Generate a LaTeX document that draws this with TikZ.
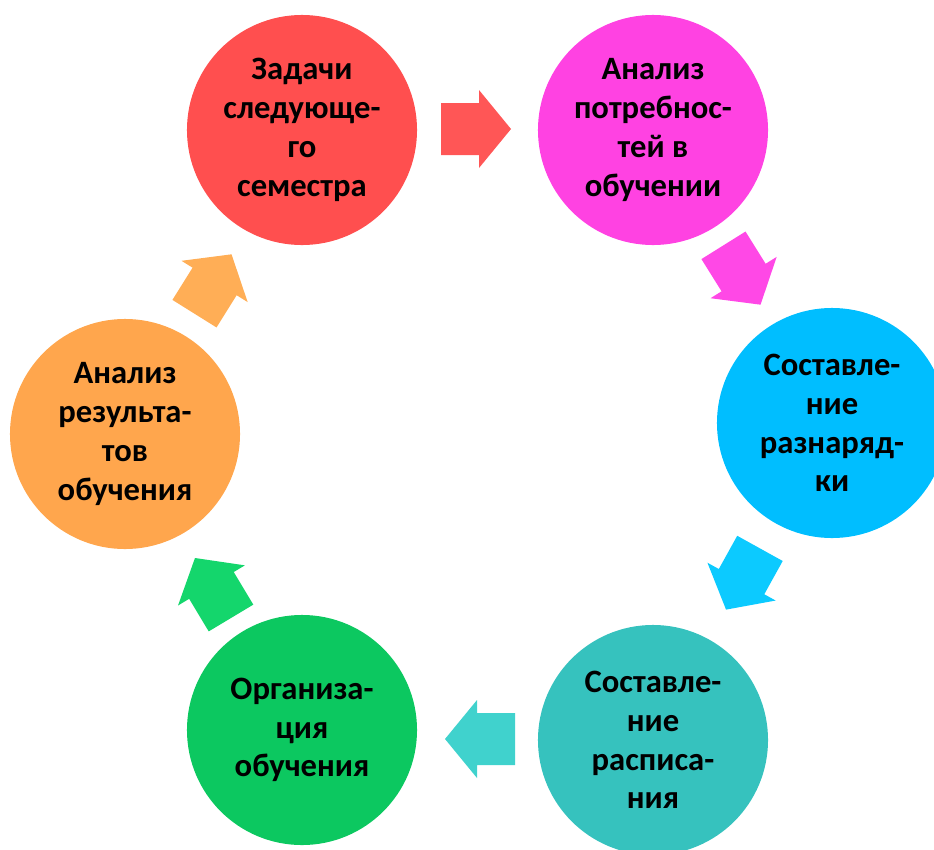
\documentclass[tikz,border=0pt]{standalone}
\usepackage{fontspec}
\setmainfont{Carlito}

\definecolor{cRed}{RGB}{255,79,79}
\definecolor{cRedA}{RGB}{255,86,86}
\definecolor{cPink}{RGB}{255,66,226}
\definecolor{cPinkA}{RGB}{255,72,230}
\definecolor{cCyan}{RGB}{0,190,255}
\definecolor{cCyanA}{RGB}{12,202,255}
\definecolor{cTeal}{RGB}{54,194,190}
\definecolor{cTealA}{RGB}{64,210,205}
\definecolor{cGreen}{RGB}{12,200,96}
\definecolor{cGreenA}{RGB}{20,214,108}
\definecolor{cOrange}{RGB}{255,166,77}
\definecolor{cOrangeA}{RGB}{255,174,86}

\begin{document}
\begin{tikzpicture}[
    x=0.025cm, y=-0.025cm,
    stage/.style={circle, draw=none, fill=#1, minimum size=5.75cm, inner sep=0pt,
                  align=center, font=\fontsize{23.2}{27.6}\selectfont\bfseries},
    blockarrow/.pic={
        \path[pic actions] (-35,-26) -- (3,-26) -- (3,-39) -- (35,0)
            -- (3,39) -- (3,26) -- (-35,26) -- cycle;
    },
]

\useasboundingbox (0,0) rectangle (934,849);

% Stages of the cycle
\node[stage=cRed]    (tasks)    at (302,130) {Задачи\\следующе-\\го\\семестра};
\node[stage=cPink]   (needs)    at (653,130) {Анализ\\потребнос-\\тей в\\обучении};
\node[stage=cCyan]   (quota)    at (832,423) {Составле-\\ние\\разнаряд-\\ки};
\node[stage=cTeal]   (schedule) at (653,740) {Составле-\\ние\\расписа-\\ния};
\node[stage=cGreen]  (organize) at (302,730) {Организа-\\ция\\обучения};
\node[stage=cOrange] (results)  at (125,434) {Анализ\\результа-\\тов\\обучения};

% Block arrows between the stages
\pic[fill=cRedA,    rotate=0]    (a1) at (476,129) {blockarrow};
\pic[fill=cPinkA,   rotate=-58]  (a2) at (742,275) {blockarrow};
\pic[fill=cCyanA,   rotate=-119] (a3) at (743,579) {blockarrow};
\pic[fill=cTealA,   rotate=180]  (a4) at (480,739) {blockarrow};
\pic[fill=cGreenA,  rotate=121]  (a5) at (213,588) {blockarrow};
\pic[fill=cOrangeA, rotate=58]   (a6) at (213,284) {blockarrow};

\end{tikzpicture}
\end{document}
